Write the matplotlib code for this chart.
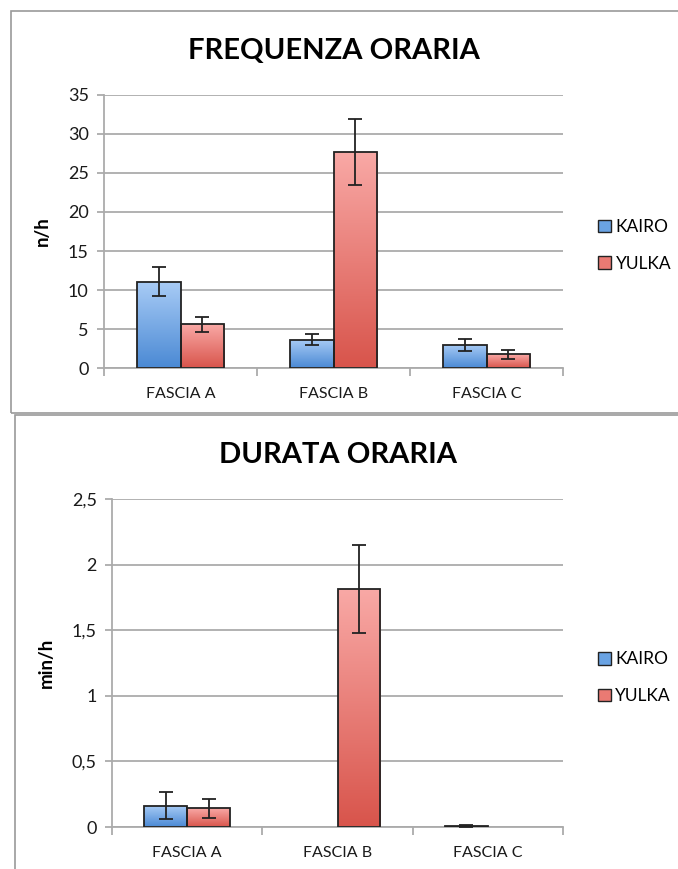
import numpy as np
import matplotlib.pyplot as plt
from matplotlib.colors import LinearSegmentedColormap
from matplotlib.patches import Patch, Rectangle
from matplotlib.ticker import FuncFormatter

plt.rcParams['font.family'] = ['Lato', 'DejaVu Sans']

categories = ["FASCIA A", "FASCIA B", "FASCIA C"]
series = ["KAIRO", "YULKA"]

freq_kairo = [11.05, 3.65, 2.95]
freq_kairo_err = [1.85, 0.65, 0.75]
freq_yulka = [5.6, 27.7, 1.75]
freq_yulka_err = [0.95, 4.25, 0.6]

dur_kairo = [0.163, 0.0, 0.008]
dur_kairo_err = [0.105, 0.0, 0.004]
dur_yulka = [0.142, 1.814, 0.0]
dur_yulka_err = [0.072, 0.335, 0.0]

blue_cmap = LinearSegmentedColormap.from_list("blue", ["#4a89d4", "#a9ccf6"])
red_cmap = LinearSegmentedColormap.from_list("red", ["#d8544b", "#f9a9a6"])
grad = np.linspace(0, 1, 256).reshape(-1, 1)

GRID = "#ababab"
EDGE = "#222222"
width = 0.285


def draw_series(ax, xs, vals, errs, cmap):
    xs = np.asarray(xs)
    vals = np.asarray(vals)
    errs = np.asarray(errs)
    keep = vals > 0  # empty values are not drawn at all
    bars = ax.bar(xs[keep], vals[keep], width, facecolor='none', edgecolor=EDGE,
                  linewidth=1.3, zorder=3)
    for b in bars:
        x0, w, h = b.get_x(), b.get_width(), b.get_height()
        im = ax.imshow(grad, cmap=cmap, extent=[x0, x0 + w, 0, h],
                       origin='lower', aspect='auto', zorder=2)
        im.set_clip_path(b)
    ax.errorbar(xs[keep], vals[keep], yerr=errs[keep], fmt='none', ecolor=EDGE,
                elinewidth=1.3, capsize=5, capthick=1.3, zorder=4)


def draw_panel(ax, title, ylabel, kairo, kerr, yulka, yerr, ymax, ystep, fmt, leg_y):
    x = np.arange(len(categories))
    draw_series(ax, x - width / 2, kairo, kerr, blue_cmap)
    draw_series(ax, x + width / 2, yulka, yerr, red_cmap)

    ax.set_xlim(-0.5, len(categories) - 0.5)
    ax.set_ylim(0, ymax)
    ax.set_yticks(np.arange(0, ymax + ystep / 2, ystep))
    ax.yaxis.set_major_formatter(FuncFormatter(fmt))
    ax.grid(axis='y', color=GRID, linewidth=1.3, zorder=0)
    ax.set_axisbelow(True)

    ax.set_xticks(np.arange(-0.5, len(categories), 1.0))
    ax.set_xticklabels([])
    ax.set_xticks(x, minor=True)
    ax.set_xticklabels(categories, minor=True, fontsize=11.5, color="#1a1a1a")
    ax.tick_params(axis='x', which='major', length=6, color=GRID, width=1.3)
    ax.tick_params(axis='x', which='minor', length=0, pad=14)
    ax.tick_params(axis='y', length=5, color=GRID, width=1.3, labelsize=13,
                   labelcolor="#1a1a1a", pad=6)

    for s in ['top', 'right']:
        ax.spines[s].set_visible(False)
    for s in ['left', 'bottom']:
        ax.spines[s].set_color(GRID)
        ax.spines[s].set_linewidth(1.3)

    ax.set_ylabel(ylabel, fontsize=13.5, fontweight='bold', labelpad=12)
    ax.set_title(title, fontsize=21, fontweight='bold', pad=26)

    handles = [Patch(facecolor="#6aa3e3", edgecolor=EDGE, label=series[0]),
               Patch(facecolor="#ea7a73", edgecolor=EDGE, label=series[1])]
    ax.legend(handles=handles, loc='center left', bbox_to_anchor=(1.058, leg_y),
              frameon=False, fontsize=12.5, handlelength=0.75, handleheight=0.75,
              handletextpad=0.25, labelspacing=1.2, borderpad=0)


fig = plt.figure(figsize=(6.78, 8.69), dpi=100)

# panel frames
fig.patches.append(Rectangle((0.016, 0.5247), 1.1, 0.4626, transform=fig.transFigure,
                             fill=False, edgecolor="#9a9a9a", linewidth=1.2))
fig.patches.append(Rectangle((0.022, -0.1), 1.1, 0.6224, transform=fig.transFigure,
                             fill=False, edgecolor="#9a9a9a", linewidth=1.2))

ax1 = fig.add_axes([0.1534, 0.5765, 0.677, 0.3142])
ax2 = fig.add_axes([0.1652, 0.0483, 0.6652, 0.3775])

draw_panel(ax1, "FREQUENZA ORARIA", "n/h", freq_kairo, freq_kairo_err,
           freq_yulka, freq_yulka_err, 35, 5, lambda v, p: f"{v:g}", 0.449)
draw_panel(ax2, "DURATA ORARIA", "min/h", dur_kairo, dur_kairo_err,
           dur_yulka, dur_yulka_err, 2.5, 0.5,
           lambda v, p: f"{v:g}".replace(".", ","), 0.455)

fig.savefig("out.png", dpi=100)
